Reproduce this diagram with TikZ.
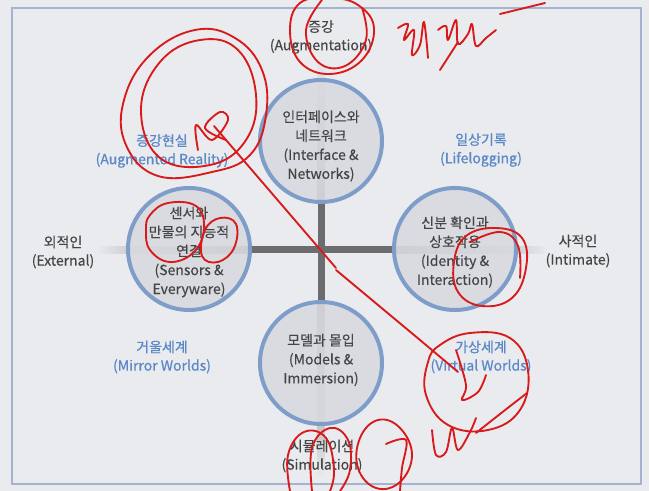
\documentclass[tikz,border=0pt]{standalone}
\usepackage{fontspec}
\setmainfont{Noto Sans CJK KR}
\newfontfamily\txtfont[FakeBold=0.3]{Noto Sans CJK KR}
\newfontfamily\blufont[FakeBold=0.6]{Noto Sans CJK KR}
\definecolor{bgc}{HTML}{EAEBEF}
\definecolor{framec}{HTML}{A3B3D0}
\definecolor{ringc}{HTML}{7F9DC9}
\definecolor{diskc}{HTML}{D9DAE0}
\definecolor{txtc}{HTML}{454545}
\definecolor{bluc}{HTML}{5B88C6}
\definecolor{barc}{HTML}{6C6C6E}
\definecolor{inkc}{HTML}{D81A1A}
\tikzset{
  disk/.style={circle, draw=ringc, line width=3pt, fill=diskc, fill opacity=0.9, draw opacity=1, minimum size=91.5pt, inner sep=0pt},
  intext/.style={align=center, text=txtc, font=\txtfont\fontsize{10.5}{14.2}\selectfont, inner sep=0pt},
  axistext/.style={align=center, text=txtc, font=\txtfont\fontsize{10.5}{13.8}\selectfont, inner sep=0pt},
  quadtext/.style={align=center, text=bluc, font=\blufont\fontsize{10.5}{13.8}\selectfont, inner sep=0pt},
  ink/.style={draw=inkc, line width=1.4pt, line cap=round, line join=round}
}
\begin{document}
\begin{tikzpicture}[x=0.75pt,y=-0.75pt]
\fill[bgc] (0,0) rectangle (649,491);
\useasboundingbox (0,0) rectangle (649,491);
\draw[framec, line width=1.5pt] (12,8) rectangle (641,484);
% cross
\shade[left color=bgc, right color=barc] (95,246.5) rectangle (250,253.5);
\fill[barc] (250,246.5) rectangle (392,253.5);
\shade[left color=barc, right color=bgc] (392,246.5) rectangle (548,253.5);
\shade[top color=bgc, bottom color=barc] (317.5,62) rectangle (324.5,200);
\fill[barc] (317.5,200) rectangle (324.5,302);
\shade[top color=barc, bottom color=bgc] (317.5,302) rectangle (324.5,478);
% circles
\node[disk] (ctop) at (321,141) {};
\node[disk] (cleft) at (189,249) {};
\node[disk] (cright) at (455,249) {};
\node[disk] (cbot) at (321,363) {};
\node[intext] (ttop) at (321,146) {인터페이스와\\네트워크\\(Interface \&\\Networks)};
\node[intext] (tleft) at (189,252) {센서와\\만물의 지능적\\연결\\(Sensors \&\\Everyware)};
\node[intext] (tright) at (455,252) {신분 확인과\\상호작용\\(Identity \&\\Interaction)};
\node[intext] (tbot) at (321,360) {모델과 몰입\\(Models \&\\Immersion)};
% axis labels
\node[axistext] (aug) at (321,37) {증강\\(Augmentation)};
\node[axistext] (sim) at (322,456) {시뮬레이션\\(Simulation)};
\node[axistext] (ext) at (63,252) {외적인\\(External)};
\node[axistext] (int) at (578,251) {사적인\\(Intimate)};
% quadrant labels
\node[quadtext] (ar) at (162,151) {증강현실\\(Augmented Reality)};
\node[quadtext] (ll) at (481,150) {일상기록\\(Lifelogging)};
\node[quadtext] (mw) at (162,357) {거울세계\\(Mirror Worlds)};
\node[quadtext] (vw) at (481,357) {가상세계\\(Virtual Worlds)};
% handwritten red annotations
\draw[ink] plot[smooth cycle, tension=0.7] coordinates {(262,70) (235,38) (195,30) (150,55) (124,100) (126,145) (158,176) (212,172) (250,155) (266,115)};
\draw[ink] plot[smooth cycle, tension=0.7] coordinates {(256,95) (238,50) (200,40) (160,62) (141,110) (160,158) (210,165) (246,140)};
\draw[ink] plot[smooth, tension=0.6] coordinates {(198,150) (196,125) (212,140) (228,120) (220,112) (205,128) (226,140)};
\draw[ink] (214,126) -- (336,268);
\draw[ink] (336,270) -- (420,340) -- (458,372);
\draw[ink] plot[smooth cycle, tension=0.7] coordinates {(300,3) (290,30) (300,62) (330,74) (362,60) (374,28) (358,5) (330,-2)};
\draw[ink] plot[smooth, tension=0.7] coordinates {(322,0) (306,30) (318,62) (345,66) (366,40) (362,8)};
\draw[ink] plot[smooth, tension=0.6] coordinates {(398,28) (408,24) (404,40) (414,30) (412,55) (420,45) (424,22) (428,58)};
\draw[ink] plot[smooth, tension=0.6] coordinates {(438,30) (446,26) (448,40) (456,20) (458,44) (468,34) (472,24) (476,46) (486,38) (496,30)};
\draw[ink] (440,70) -- (458,42);
\draw[ink] (500,14) -- (545,3);
\draw[ink] plot[smooth cycle, tension=0.7] coordinates {(150,215) (168,203) (196,206) (204,228) (194,252) (170,262) (150,250) (146,230)};
\draw[ink] plot[smooth cycle, tension=0.7] coordinates {(205,230) (220,218) (236,224) (234,248) (218,262) (202,256)};
\draw[ink] plot[smooth cycle, tension=0.7] coordinates {(466,236) (496,228) (522,238) (526,268) (512,298) (482,306) (458,292) (454,262)};
\draw[ink] plot[smooth, tension=0.7] coordinates {(470,242) (500,232) (518,246) (520,278)};
\draw[ink] plot[smooth cycle, tension=0.7] coordinates {(440,345) (470,333) (510,338) (528,370) (520,410) (488,430) (448,425) (426,395) (428,362)};
\draw[ink] plot[smooth, tension=0.6] coordinates {(456,350) (466,385) (462,400) (478,392) (486,375)};
\draw[ink] plot[smooth, tension=0.6] coordinates {(476,433) (500,414) (527,393)};
\draw[ink] plot[smooth cycle, tension=0.7] coordinates {(378,420) (400,428) (412,455) (400,482) (376,488) (358,468) (360,438)};
\draw[ink] plot[smooth, tension=0.6] coordinates {(386,444) (406,440) (402,468) (400,491)};
\draw[ink] plot[smooth, tension=0.6] coordinates {(432,430) (436,455) (446,452) (452,428) (458,450) (470,432) (476,418)};
\draw[ink] plot[smooth, tension=0.7] coordinates {(290,491) (288,455) (304,432) (326,438) (334,470) (330,491)};
\draw[ink] plot[smooth, tension=0.7] coordinates {(312,491) (312,448) (330,428) (348,440) (350,470) (340,491)};
\end{tikzpicture}
\end{document}
